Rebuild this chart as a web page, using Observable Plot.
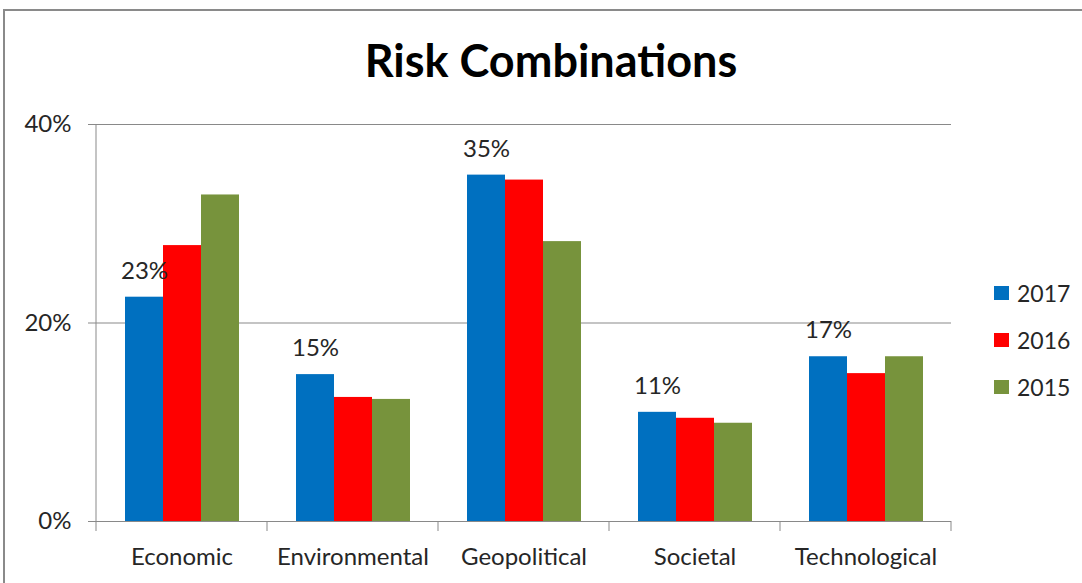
<!DOCTYPE html>
<html><head><meta charset="utf-8">
<script src="https://cdn.jsdelivr.net/npm/d3@7"></script>
<script src="https://cdn.jsdelivr.net/npm/@observablehq/plot@0.6"></script>
<style>
html,body{margin:0;padding:0;background:#fff;}
#wrap{position:relative;width:1082px;height:583px;overflow:hidden;background:#fff;font-family:Lato,sans-serif;color:#262626;}
#border{position:absolute;left:3px;top:9px;width:1200px;height:700px;border-top:2px solid #8a8a8a;border-left:2px solid #8a8a8a;pointer-events:none;}
#title{box-sizing:border-box;height:100px;padding-top:38px;padding-left:20px;text-align:center;font-weight:700;font-size:45px;line-height:45px;color:#000;}
#chart svg{display:block}
#legend{position:absolute;left:994px;top:269px;}
.row{height:47px;display:flex;align-items:center;font-size:23px;color:#262626;}
.sw{width:15px;height:14px;margin-right:8px;}
</style></head><body>
<div id="wrap"><div id="title">Risk Combinations</div><div id="chart"></div><div id="legend"></div><div id="border"></div></div>
<script>
const categories = ["Economic", "Environmental", "Geopolitical", "Societal", "Technological"];
const years = ["2017", "2016", "2015"];
const values2017 = [0.226, 0.148, 0.349, 0.110, 0.166];
const values2016 = [0.278, 0.125, 0.344, 0.104, 0.149];
const values2015 = [0.329, 0.123, 0.282, 0.099, 0.166];
const yTicks = [0, 0.2, 0.4];
const gridTicks = [0.2, 0.4];
const colors = ["#0070C0", "#FF0000", "#77933C"];

const series = [values2017, values2016, values2015];
const data = categories.flatMap((c, i) => years.map((y, j) => ({category: c, year: y, value: series[j][i]})));
const fmt = d3.format(".0%");
const gray = "#898989";

const plot = Plot.plot({
  width: 1082,
  height: 483,
  marginTop: 24,
  marginBottom: 62,
  marginLeft: 95,
  marginRight: 131,
  style: {fontFamily: "Lato, sans-serif", fontSize: "24px", color: "#262626", background: "transparent"},
  fx: {domain: categories, padding: 0, label: null},
  x: {domain: years, paddingInner: 0, paddingOuter: 0.71, axis: null},
  y: {domain: [0, 0.4], label: null},
  color: {domain: years, range: colors},
  marks: [
    Plot.gridY(gridTicks, {stroke: gray, strokeOpacity: 1}),
    Plot.ruleY([0], {stroke: gray}),
    Plot.barY(data, {fx: "category", x: "year", y: "value", fill: "year"}),
    Plot.text(data.filter(d => d.year === "2017"), {fx: "category", x: "year", y: "value", text: d => fmt(d.value), dy: -26, fontSize: 24, fill: "#262626"}),
    Plot.axisY(yTicks, {tickFormat: ".0%", tickSize: 8, tickPadding: 17, stroke: gray, fill: "#262626", fontSize: 24, label: null}),
    Plot.axisFx({anchor: "bottom", tickSize: 0, tickPadding: 26, fontSize: 24, fill: "#262626", label: null})
  ]
});
document.getElementById("chart").appendChild(plot);

// axis line and category boundary ticks, positioned with Plot's scales
const fxS = plot.scale("fx");
const yS = plot.scale("y");
const g = d3.select(plot).append("g").attr("stroke", gray).attr("stroke-width", 1);
const left = fxS.apply(categories[0]);
const bounds = categories.map(c => fxS.apply(c)).concat([fxS.apply(categories[categories.length - 1]) + fxS.bandwidth]);
g.append("line").attr("x1", left).attr("x2", left).attr("y1", yS.apply(0.4)).attr("y2", yS.apply(0));
bounds.forEach(b => g.append("line").attr("x1", b).attr("x2", b).attr("y1", yS.apply(0)).attr("y2", yS.apply(0) + 10));

// legend
const color = plot.scale("color");
const legend = d3.select("#legend");
years.forEach(y => {
  const row = legend.append("div").attr("class", "row");
  row.append("div").attr("class", "sw").style("background", color.apply(y));
  row.append("span").text(y);
});
</script>
</body></html>
